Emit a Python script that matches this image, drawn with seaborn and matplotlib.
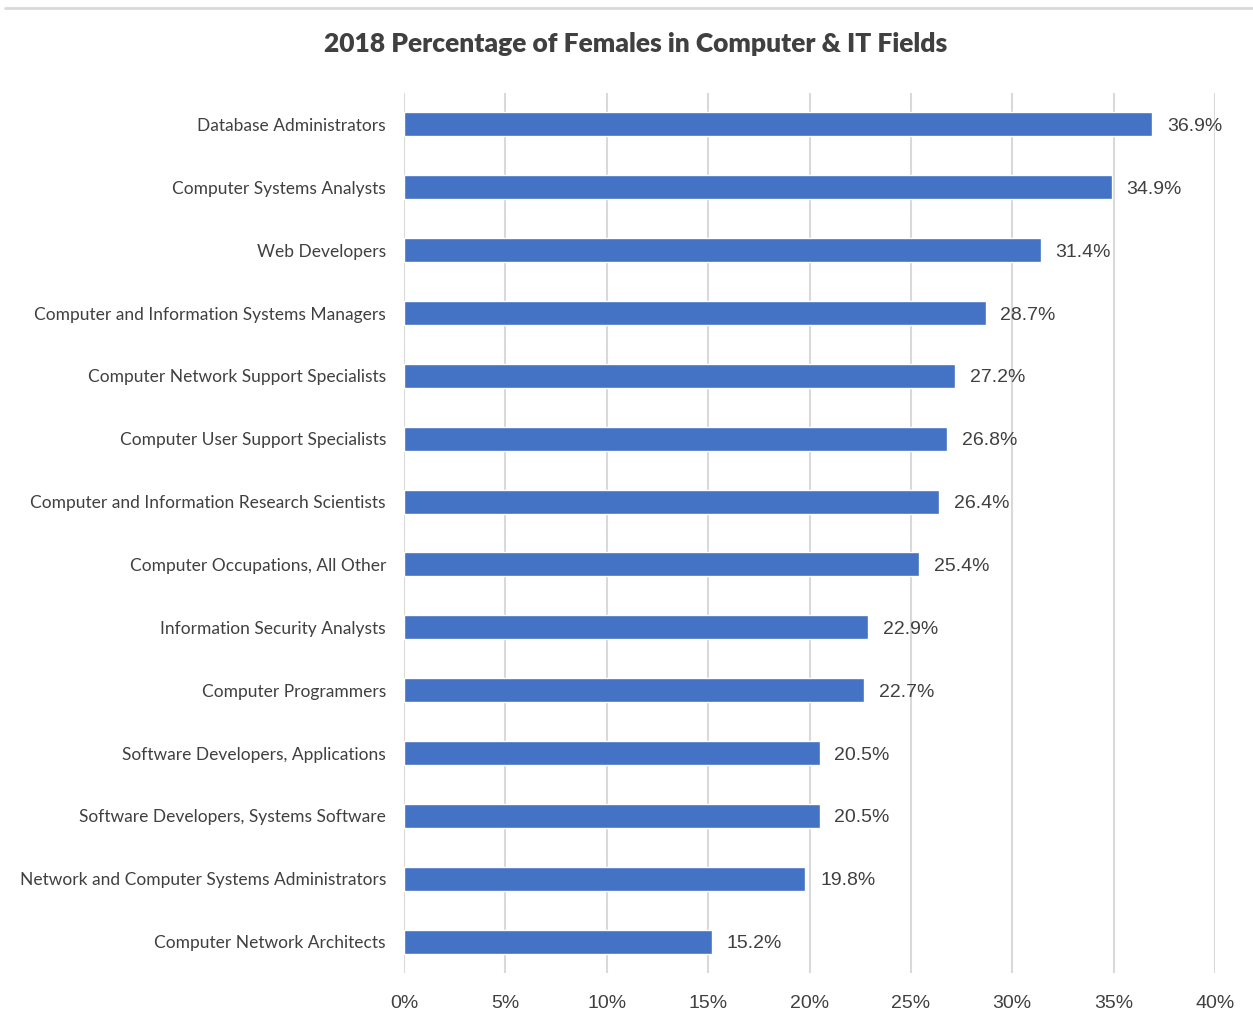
import matplotlib
matplotlib.use("Agg")
import matplotlib.pyplot as plt
import seaborn as sns
import pandas as pd
from matplotlib.lines import Line2D
from matplotlib.ticker import FuncFormatter

occupations = [
    "Database Administrators",
    "Computer Systems Analysts",
    "Web Developers",
    "Computer and Information Systems Managers",
    "Computer Network Support Specialists",
    "Computer User Support Specialists",
    "Computer and Information Research Scientists",
    "Computer Occupations, All Other",
    "Information Security Analysts",
    "Computer Programmers",
    "Software Developers, Applications",
    "Software Developers, Systems Software",
    "Network and Computer Systems Administrators",
    "Computer Network Architects",
]
female_pct = [36.9, 34.9, 31.4, 28.7, 27.2, 26.8, 26.4, 25.4, 22.9, 22.7, 20.5, 20.5, 19.8, 15.2]
x_ticks = [0, 5, 10, 15, 20, 25, 30, 35, 40]
title = "2018 Percentage of Females in Computer & IT Fields"

df = pd.DataFrame({"occupation": occupations, "pct": female_pct})

sns.set_theme(style="white")
plt.rcParams["font.family"] = ["Liberation Sans", "DejaVu Sans"]

fig = plt.figure(figsize=(12.53, 10.26), dpi=100)
ax = fig.add_axes([404 / 1253, 1 - 973 / 1026, (1215 - 404) / 1253, (973 - 93) / 1026])

sns.barplot(data=df, x="pct", y="occupation", orient="h", color="#4472C4",
            saturation=1, width=0.38, ax=ax, zorder=3)

ax.set_xlim(0, 40)
ax.set_ylim(13.5, -0.5)
ax.set_xticks(x_ticks)
ax.xaxis.set_major_formatter(FuncFormatter(lambda v, p: f"{v:.0f}%"))
ax.grid(axis="x", color="#d9d9d9", linewidth=1.5, zorder=0)
ax.grid(axis="y", visible=False)
for s in ax.spines.values():
    s.set_visible(False)
ax.set_xlabel("")
ax.set_ylabel("")
ax.tick_params(axis="x", length=0, pad=16, labelsize=14, labelcolor="#404040")
ax.tick_params(axis="y", length=0, pad=13, labelsize=12.5, labelcolor="#404040")
for lbl in ax.get_yticklabels():
    lbl.set_fontfamily(["Lato", "DejaVu Sans"])

for i, v in enumerate(female_pct):
    ax.annotate(f"{v:.1f}%", xy=(v, i), xytext=(10.5, -1.5), textcoords="offset points",
                va="center", ha="left", fontsize=14, color="#404040")

fig.text(636 / 1253, 1 - 44 / 1026, title, ha="center", va="center", fontsize=19,
         fontweight="heavy", color="#404040", family=["Lato", "DejaVu Sans"])

fig.add_artist(Line2D([5 / 1253, 1.0], [1 - 8 / 1026, 1 - 8 / 1026], color="#d9d9d9",
                      linewidth=2, transform=fig.transFigure))

fig.savefig("out.png", dpi=100, facecolor="white")
